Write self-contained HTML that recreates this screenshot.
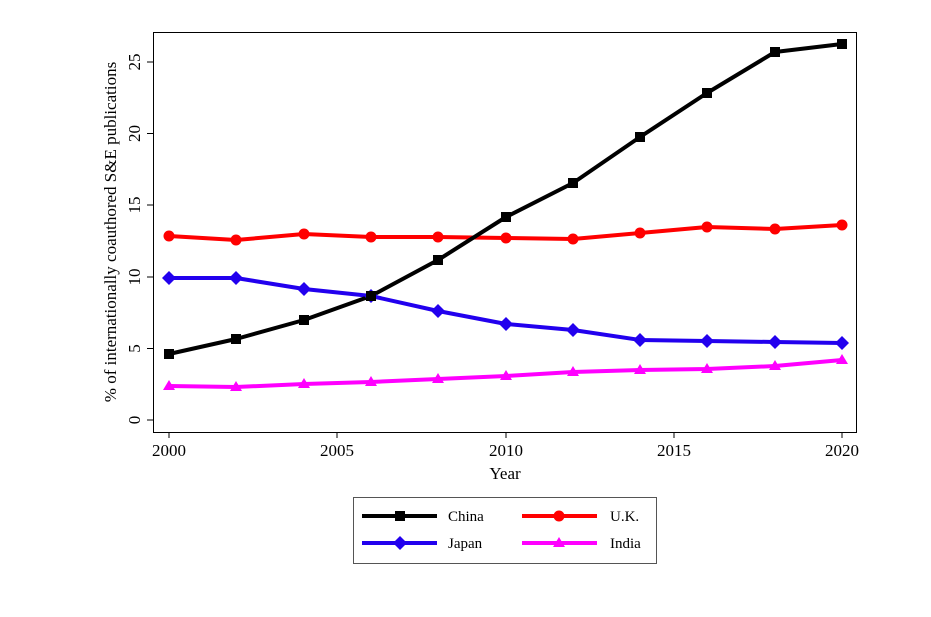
<!DOCTYPE html>
<html><head><meta charset="utf-8"><style>body{margin:0;background:#fff}svg{display:block}text{font-family:"Liberation Serif",serif;fill:#000}</style></head>
<body>
<svg width="931" height="617" viewBox="0 0 931 617">
<rect x="153.5" y="32.5" width="703" height="400" fill="none" stroke="#000" stroke-width="1"/>
<g stroke="#000" stroke-width="1">
<line x1="147" y1="420" x2="153" y2="420"/><line x1="147" y1="348.5" x2="153" y2="348.5"/><line x1="147" y1="277" x2="153" y2="277"/><line x1="147" y1="205" x2="153" y2="205"/><line x1="147" y1="133.5" x2="153" y2="133.5"/><line x1="147" y1="62" x2="153" y2="62"/>
<line x1="169" y1="432" x2="169" y2="438"/><line x1="337" y1="432" x2="337" y2="438"/><line x1="506" y1="432" x2="506" y2="438"/><line x1="674" y1="432" x2="674" y2="438"/><line x1="842" y1="432" x2="842" y2="438"/>
</g>
<g font-size="17" text-anchor="middle">
<text transform="translate(140,420) rotate(-90)">0</text>
<text transform="translate(140,348.5) rotate(-90)">5</text>
<text transform="translate(140,277) rotate(-90)">10</text>
<text transform="translate(140,205) rotate(-90)">15</text>
<text transform="translate(140,133.5) rotate(-90)">20</text>
<text transform="translate(140,62) rotate(-90)">25</text>
<text x="169" y="456">2000</text><text x="337" y="456">2005</text><text x="506" y="456">2010</text><text x="674" y="456">2015</text><text x="842" y="456">2020</text>
<text x="505" y="479">Year</text>
<text transform="translate(116,232) rotate(-90)">% of internationally coauthored S&amp;E publications</text>
</g>
<g fill="none" stroke-width="4" stroke-linejoin="round">
<polyline stroke="#ff00ff" points="169,386 236,387 304,384 371,382 438,379 506,376 573,372 640,370 707,369 775,366 842,360"/>
<polyline stroke="#2200ee" points="169,278 236,278 304,289 371,296 438,311 506,324 573,330 640,340 707,341 775,342 842,343"/>
<polyline stroke="#ff0000" points="169,236 236,240 304,234 371,237 438,237 506,238 573,239 640,233 707,227 775,229 842,225"/>
<polyline stroke="#000" points="169,354 236,339 304,320 371,296 438,260 506,217 573,183 640,137 707,93 775,52 842,44"/>
</g>
<g fill="#ff00ff">
<polygon points="169,380 175,390 163,390"/><polygon points="236,381 242,391 230,391"/><polygon points="304,378 310,388 298,388"/><polygon points="371,376 377,386 365,386"/><polygon points="438,373 444,383 432,383"/><polygon points="506,370 512,380 500,380"/><polygon points="573,366 579,376 567,376"/><polygon points="640,364 646,374 634,374"/><polygon points="707,363 713,373 701,373"/><polygon points="775,360 781,370 769,370"/><polygon points="842,354 848,364 836,364"/>
</g>
<g fill="#2200ee">
<polygon points="169,271 176,278 169,285 162,278"/><polygon points="236,271 243,278 236,285 229,278"/><polygon points="304,282 311,289 304,296 297,289"/><polygon points="371,289 378,296 371,303 364,296"/><polygon points="438,304 445,311 438,318 431,311"/><polygon points="506,317 513,324 506,331 499,324"/><polygon points="573,323 580,330 573,337 566,330"/><polygon points="640,333 647,340 640,347 633,340"/><polygon points="707,334 714,341 707,348 700,341"/><polygon points="775,335 782,342 775,349 768,342"/><polygon points="842,336 849,343 842,350 835,343"/>
</g>
<g fill="#ff0000">
<circle cx="169" cy="236" r="5.5"/><circle cx="236" cy="240" r="5.5"/><circle cx="304" cy="234" r="5.5"/><circle cx="371" cy="237" r="5.5"/><circle cx="438" cy="237" r="5.5"/><circle cx="506" cy="238" r="5.5"/><circle cx="573" cy="239" r="5.5"/><circle cx="640" cy="233" r="5.5"/><circle cx="707" cy="227" r="5.5"/><circle cx="775" cy="229" r="5.5"/><circle cx="842" cy="225" r="5.5"/>
</g>
<g fill="#000">
<rect x="164" y="349" width="10" height="10"/><rect x="231" y="334" width="10" height="10"/><rect x="299" y="315" width="10" height="10"/><rect x="366" y="291" width="10" height="10"/><rect x="433" y="255" width="10" height="10"/><rect x="501" y="212" width="10" height="10"/><rect x="568" y="178" width="10" height="10"/><rect x="635" y="132" width="10" height="10"/><rect x="702" y="88" width="10" height="10"/><rect x="770" y="47" width="10" height="10"/><rect x="837" y="39" width="10" height="10"/>
</g>
<rect x="353.5" y="497.5" width="303" height="66" fill="none" stroke="#555" stroke-width="1"/>
<line x1="362" y1="516" x2="437" y2="516" stroke="#000" stroke-width="4"/><rect x="395" y="511" width="10" height="10" fill="#000"/>
<line x1="522" y1="516" x2="597" y2="516" stroke="#ff0000" stroke-width="4"/><circle cx="559" cy="516" r="5.5" fill="#ff0000"/>
<line x1="362" y1="543" x2="437" y2="543" stroke="#2200ee" stroke-width="4"/><polygon points="400,536 407,543 400,550 393,543" fill="#2200ee"/>
<line x1="522" y1="543" x2="597" y2="543" stroke="#ff00ff" stroke-width="4"/><polygon points="559,537 565,547 553,547" fill="#ff00ff"/>
<g font-size="15"><text x="448" y="521">China</text><text x="610" y="521">U.K.</text><text x="448" y="548">Japan</text><text x="610" y="548">India</text></g>
</svg>
</body></html>
